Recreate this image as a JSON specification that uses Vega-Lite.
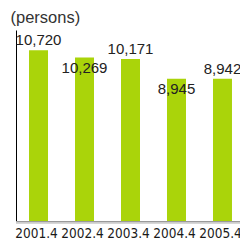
{
  "$schema": "https://vega.github.io/schema/vega-lite/v6.json",
  "autosize": {"type": "none"},
  "padding": {"left": 16, "top": 30, "right": 0, "bottom": 19},
  "width": 229,
  "height": 191,
  "config": {"view": {"stroke": null}},
  "data": {
    "values": [
      {"year": "2001.4", "persons": 10720},
      {"year": "2002.4", "persons": 10269},
      {"year": "2003.4", "persons": 10171},
      {"year": "2004.4", "persons": 8945},
      {"year": "2005.4", "persons": 8942}
    ]
  },
  "encoding": {
    "x": {
      "field": "year",
      "type": "ordinal",
      "sort": null,
      "scale": {"paddingInner": 0.587, "paddingOuter": 0.283},
      "axis": {
        "title": null,
        "labelAngle": 0,
        "ticks": false,
        "domainColor": "#000000",
        "domainWidth": 1,
        "labelFont": "DejaVu Sans Condensed",
        "labelFontSize": 13.5,
        "labelColor": "#1a1a1a",
        "labelPadding": 5.5,
        "labelOffset": -2
      }
    },
    "y": {
      "field": "persons",
      "type": "quantitative",
      "scale": {"domain": [0, 12000]},
      "axis": {
        "grid": false,
        "ticks": false,
        "labels": false,
        "domainColor": "#000000",
        "title": "(persons)",
        "titleAngle": 0,
        "titleAlign": "left",
        "titleBaseline": "alphabetic",
        "titleX": -6,
        "titleY": -8,
        "titleFont": "Liberation Sans",
        "titleFontSize": 16.5,
        "titleFontWeight": "normal",
        "titleColor": "#333333"
      }
    }
  },
  "layer": [
    {"mark": {"type": "bar", "color": "#aad40a"}},
    {
      "mark": {"type": "rule", "color": "#cccccc", "strokeWidth": 1.5, "yOffset": 1.5},
      "encoding": {"x": null, "y": {"datum": 0}}
    },
    {
      "transform": [{"filter": "indexof(['2002.4','2004.4'], datum.year) < 0"}],
      "mark": {"type": "text", "dy": -5, "baseline": "alphabetic", "font": "Liberation Sans", "fontSize": 15, "color": "#222222"},
      "encoding": {"text": {"field": "persons", "type": "quantitative", "format": ","}}
    },
    {
      "transform": [{"filter": "indexof(['2002.4','2004.4'], datum.year) >= 0"}],
      "mark": {"type": "text", "dy": 15, "baseline": "alphabetic", "font": "Liberation Sans", "fontSize": 15, "color": "#222222"},
      "encoding": {"text": {"field": "persons", "type": "quantitative", "format": ","}}
    }
  ]
}
